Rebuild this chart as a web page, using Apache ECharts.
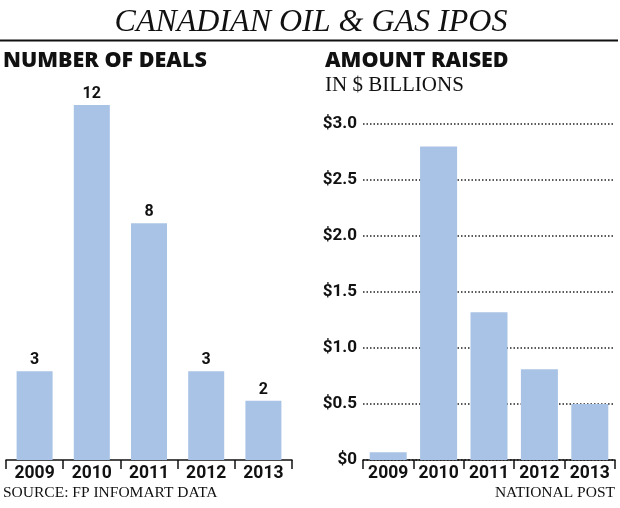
<!DOCTYPE html>
<html>
<head>
<meta charset="utf-8">
<script src="https://cdn.jsdelivr.net/npm/echarts@6/dist/echarts.min.js"></script>
<style>
html,body{margin:0;padding:0;background:#fff;}
#chart{width:620px;height:508px;}
</style>
</head>
<body>
<div id="chart"></div>
<script>
const years = ['2009', '2010', '2011', '2012', '2013'];
const deals = [3, 12, 8, 3, 2];
const amountRaised = [0.07, 2.80, 1.32, 0.81, 0.50];
const amountTickLabels = ['$0', '$0.5', '$1.0', '$1.5', '$2.0', '$2.5', '$3.0'];

const NARROW = 'Roboto, "Liberation Sans", sans-serif';
const HEAVY = '"Open Sans", "DejaVu Sans", sans-serif';
const SERIF = '"Liberation Serif", "DejaVu Serif", serif';
const BAR = '#a8c3e6';

const chart = echarts.init(document.getElementById('chart'), null, {renderer: 'canvas'});

function txt(text, x, y, size, family, opts) {
  return {
    type: 'text', x: x, y: y, silent: true,
    style: Object.assign({
      text: text, fontSize: size, fontFamily: family, fill: '#111',
      align: 'left', verticalAlign: 'middle'
    }, opts || {})
  };
}

const xAxisCommon = {
  type: 'category',
  data: years,
  axisLine: {show: true, lineStyle: {color: '#111', width: 1.5}},
  axisTick: {show: true, length: 9, lineStyle: {color: '#111', width: 1.5}},
  axisLabel: {color: '#111', fontFamily: NARROW, fontWeight: 'bold', fontSize: 17.5,
    margin: 5, interval: 0}
};

chart.setOption({
  animation: false,
  backgroundColor: '#fff',
  grid: [
    {left: 6, right: 328, top: 105, bottom: 48},
    {left: 363, right: 5, top: 124, bottom: 48}
  ],
  xAxis: [
    Object.assign({gridIndex: 0}, xAxisCommon),
    Object.assign({gridIndex: 1}, xAxisCommon)
  ],
  yAxis: [
    {gridIndex: 0, type: 'value', min: 0, max: 12, show: false},
    {
      gridIndex: 1, type: 'value', min: 0, max: 3, interval: 0.5,
      axisLine: {show: false}, axisTick: {show: false},
      axisLabel: {
        color: '#111', fontFamily: NARROW, fontWeight: 'bold', fontSize: 17, margin: 6,
        formatter: function (v) { return amountTickLabels[Math.round(v / 0.5)]; }
      },
      splitLine: {show: true, lineStyle: {color: '#222', width: 1.5, type: [1.5, 2]}}
    }
  ],
  series: [
    {
      type: 'bar', xAxisIndex: 0, yAxisIndex: 0, data: deals, barWidth: 36,
      itemStyle: {color: BAR},
      label: {show: true, position: 'top', distance: 3, color: '#111',
        fontFamily: NARROW, fontWeight: 'bold', fontSize: 16}
    },
    {
      type: 'bar', xAxisIndex: 1, yAxisIndex: 1, data: amountRaised, barWidth: 37,
      itemStyle: {color: BAR}, z: 3
    }
  ],
  graphic: [
    txt('CANADIAN OIL & GAS IPOS', 311, 23, 32, SERIF, {align: 'center', fontStyle: 'italic'}),
    {type: 'line', silent: true, shape: {x1: 0, y1: 40.5, x2: 618, y2: 40.5},
      style: {stroke: '#111', lineWidth: 2}},
    txt('NUMBER OF DEALS', 3, 61, 21.5, HEAVY, {fontWeight: 800}),
    txt('AMOUNT RAISED', 325, 61, 21.5, HEAVY, {fontWeight: 800}),
    txt('IN $ BILLIONS', 325, 85, 21, SERIF),
    txt('SOURCE: FP INFOMART DATA', 3, 493, 15.5, SERIF),
    txt('NATIONAL POST', 615, 493, 15.5, SERIF, {align: 'right'})
  ]
});
</script>
</body>
</html>
